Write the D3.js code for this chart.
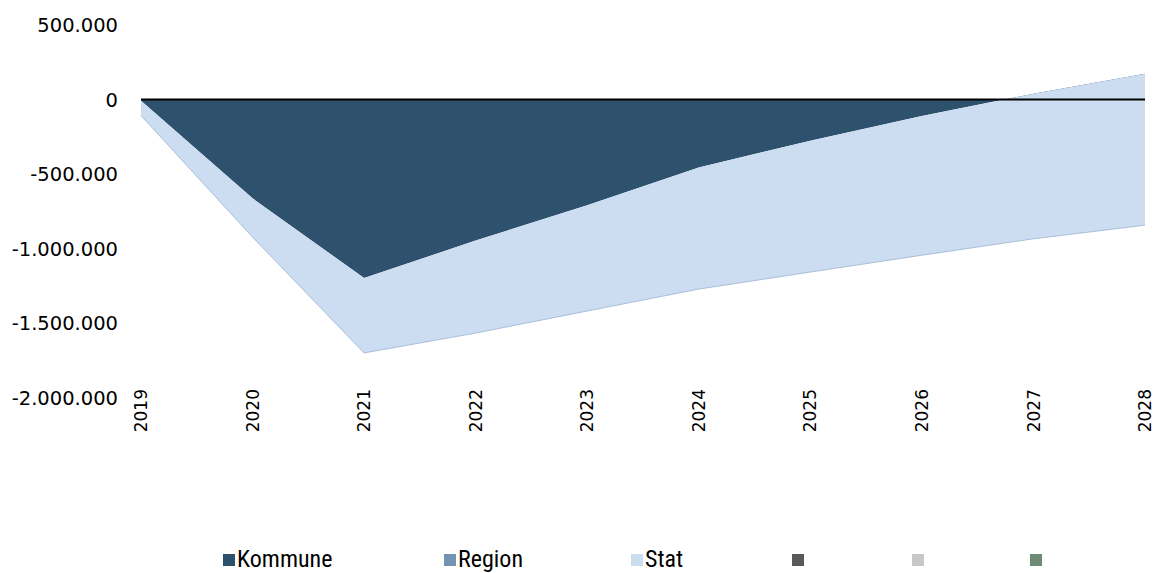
<!DOCTYPE html>
<html>
<head>
<meta charset="utf-8">
<script src="https://cdn.jsdelivr.net/npm/d3@7"></script>
<style>
  body { margin: 0; background: #fff; }
  svg { display: block; }
  .tick-y { font-family: "DejaVu Sans", Verdana, sans-serif; font-size: 19.5px; fill: #000; }
  .tick-x { font-family: "DejaVu Sans", Verdana, sans-serif; font-size: 17px; fill: #000; }
  .legend text { font-family: "Liberation Sans Narrow", "Roboto Condensed", sans-serif; font-size: 24px; fill: #000; }
</style>
</head>
<body>
<div id="chart"></div>
<script>
// Data
const years = [2019, 2020, 2021, 2022, 2023, 2024, 2025, 2026, 2027, 2028];
const kommune = [-8000, -662000, -1196000, -945000, -708000, -455000, -275000, -110000, 40000, 174000];
const region = [0, 0, 0, 0, 0, 0, 0, 0, 0, 0];
const stat = [-99000, -260000, -502000, -620000, -709000, -815000, -881000, -933000, -973000, -1016000];
const yTicks = [500000, 0, -500000, -1000000, -1500000, -2000000];

const seriesNames = ['Kommune', 'Region', 'Stat'];
const legendNames = ['Kommune', 'Region', 'Stat', '', '', ''];
const legendColors = ['#2E526E', '#7393B3', '#CDDDF1', '#595959', '#C8C8C8', '#6E8B74'];

// Layout
const width = 1157, height = 573;
const plot = { left: 141, right: 1145, top: 25, bottom: 398 };
const legendX = [223, 444, 631, 792, 912, 1030];
const legendY = 558;

const svg = d3.select('#chart').append('svg')
  .attr('width', width)
  .attr('height', height);

const x = d3.scalePoint()
  .domain(years)
  .range([plot.left, plot.right]);

const y = d3.scaleLinear()
  .domain([-2000000, 500000])
  .range([plot.bottom, plot.top]);

// Excel-style stacking: plain cumulative sums, negatives included
const table = years.map((yr, i) => ({ year: yr, Kommune: kommune[i], Region: region[i], Stat: stat[i] }));
const stacked = d3.stack()
  .keys(seriesNames)
  .offset(d3.stackOffsetNone)(table);

const area = d3.area()
  .x(d => x(d.data.year))
  .y0(d => y(d[0]))
  .y1(d => y(d[1]));

svg.append('g')
  .selectAll('path')
  .data(stacked)
  .join('path')
  .attr('d', area)
  .attr('fill', (d, i) => legendColors[i]);

// faint outline along the lower edge of the Stat band
const statLayer = stacked[2];
svg.append('path')
  .datum(statLayer)
  .attr('d', d3.line().x(d => x(d.data.year)).y(d => y(d[1])))
  .attr('fill', 'none')
  .attr('stroke', '#9BB3D2')
  .attr('stroke-width', 0.8);

// zero line
svg.append('line')
  .attr('x1', plot.left)
  .attr('x2', plot.right)
  .attr('y1', y(0))
  .attr('y2', y(0))
  .attr('stroke', '#000')
  .attr('stroke-width', 2);

// y tick labels (no axis line)
const fmt = v => d3.format(',')(v).replace(/,/g, '.').replace('−', '-');
svg.append('g')
  .selectAll('text')
  .data(yTicks)
  .join('text')
  .attr('class', 'tick-y')
  .attr('x', 118)
  .attr('y', d => y(d))
  .attr('dy', '0.36em')
  .attr('text-anchor', 'end')
  .text(fmt);

// x tick labels, rotated
svg.append('g')
  .selectAll('text')
  .data(years)
  .join('text')
  .attr('class', 'tick-x')
  .attr('transform', d => `translate(${x(d)},${plot.bottom - 9}) rotate(-90)`)
  .attr('dy', '0.36em')
  .attr('text-anchor', 'end')
  .text(d => d);

// legend
const leg = svg.append('g').attr('class', 'legend')
  .selectAll('g')
  .data(legendNames)
  .join('g')
  .attr('transform', (d, i) => `translate(${legendX[i]},${legendY})`);

leg.append('rect')
  .attr('x', 0)
  .attr('y', -4)
  .attr('width', 12)
  .attr('height', 12)
  .attr('fill', (d, i) => legendColors[i]);

leg.append('text')
  .attr('x', 14)
  .attr('y', 0)
  .attr('dy', '0.36em')
  .text(d => d);
</script>
</body>
</html>
